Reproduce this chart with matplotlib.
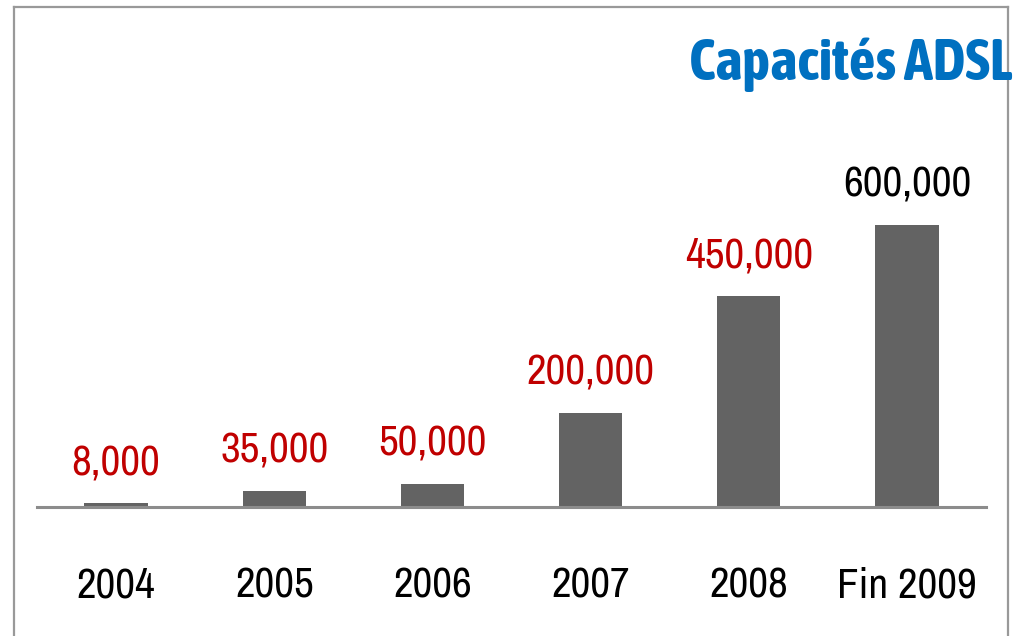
import matplotlib.pyplot as plt
from matplotlib.lines import Line2D

categories = ["2004", "2005", "2006", "2007", "2008", "Fin 2009"]
capacities = [8000, 35000, 50000, 200000, 450000, 600000]
label_colors = ["#C00000", "#C00000", "#C00000", "#C00000", "#C00000", "#000000"]

NARROW = ["Archivo Narrow", "Liberation Sans", "DejaVu Sans"]
TITLE_FONT = ["Asap Condensed", "Liberation Sans", "DejaVu Sans"]

fig = plt.figure(figsize=(10.16, 6.36), dpi=100)
ax = fig.add_axes([37 / 1016, 129 / 636, 949 / 1016, 499 / 636])

x = range(len(categories))
bars = ax.bar(x, capacities, width=0.4, color="#636363", zorder=2)

ax.set_xlim(-0.5, len(categories) - 0.5)
ax.set_ylim(0, 600000 * 499 / 282)

for b, v, c in zip(bars, capacities, label_colors):
    ax.annotate(f"{v:,}", (b.get_x() + b.get_width() / 2, v),
                xytext=(0, 21), textcoords="offset pixels",
                ha="center", va="bottom", color=c,
                fontsize=31, family=NARROW)

ax.set_xticks(list(x))
ax.set_xticklabels(categories, family=NARROW, fontsize=31)
ax.tick_params(axis="x", length=0, pad=43)
ax.set_yticks([])
for s in ["top", "right", "left"]:
    ax.spines[s].set_visible(False)
ax.spines["bottom"].set_color("#8c8c8c")
ax.spines["bottom"].set_linewidth(2.2)
ax.spines["bottom"].set_zorder(3)

# outer frame (left, top, right)
W, H = 1016, 636
frame = [((14, 14), (636, 7)), ((14, 1008), (7, 7)), ((1008, 1008), (7, 636))]
for xs, ys in frame:
    fig.add_artist(Line2D([xx / W for xx in xs], [1 - yy / H for yy in ys],
                          color="#999999", lw=1.6))

fig.text(1012 / W, 1 - 80 / H, "Capacités ADSL", ha="right", va="baseline",
         color="#0070C0", fontsize=42, fontweight="bold", family=TITLE_FONT)

fig.savefig("out.png", dpi=100)
